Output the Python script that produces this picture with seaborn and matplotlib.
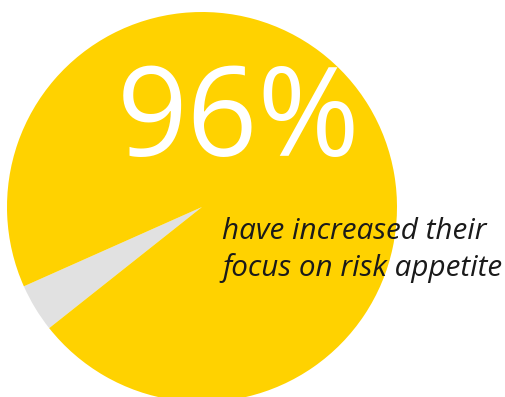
import matplotlib
matplotlib.use("Agg")
import matplotlib.pyplot as plt
import seaborn as sns

# Survey share
categories = ["Increased focus on risk appetite", "No increase"]
shares = [96, 4]
headline = "96%"
caption = "have increased their\nfocus on risk appetite"

sns.set_theme(style="white")
plt.rcParams["font.family"] = ["Open Sans", "DejaVu Sans"]

colors = ["#FFD200", "#E1E1E1"]

W, H = 505, 397
fig = plt.figure(figsize=(W / 100, H / 100), dpi=100)
ax = fig.add_axes([0, 0, 1, 1])

# Draw small slice first so it sits at the lower left
ax.pie(
    [shares[1], shares[0]],
    colors=[colors[1], colors[0]],
    startangle=204,
    counterclock=True,
    center=(202, H - 207),
    radius=195,
    wedgeprops=dict(linewidth=0),
)
ax.set_xlim(0, W)
ax.set_ylim(0, H)
ax.set_aspect("equal")
ax.axis("off")

ax.text(239, H - 156, headline, color="white", fontsize=89,
        fontweight="normal", ha="center", va="baseline")
ax.text(222, H - 250, caption, color="#1A1A1A", fontsize=21.3,
        fontstyle="italic", ha="left", va="center", linespacing=1.3)

fig.savefig("out.png", dpi=100)
